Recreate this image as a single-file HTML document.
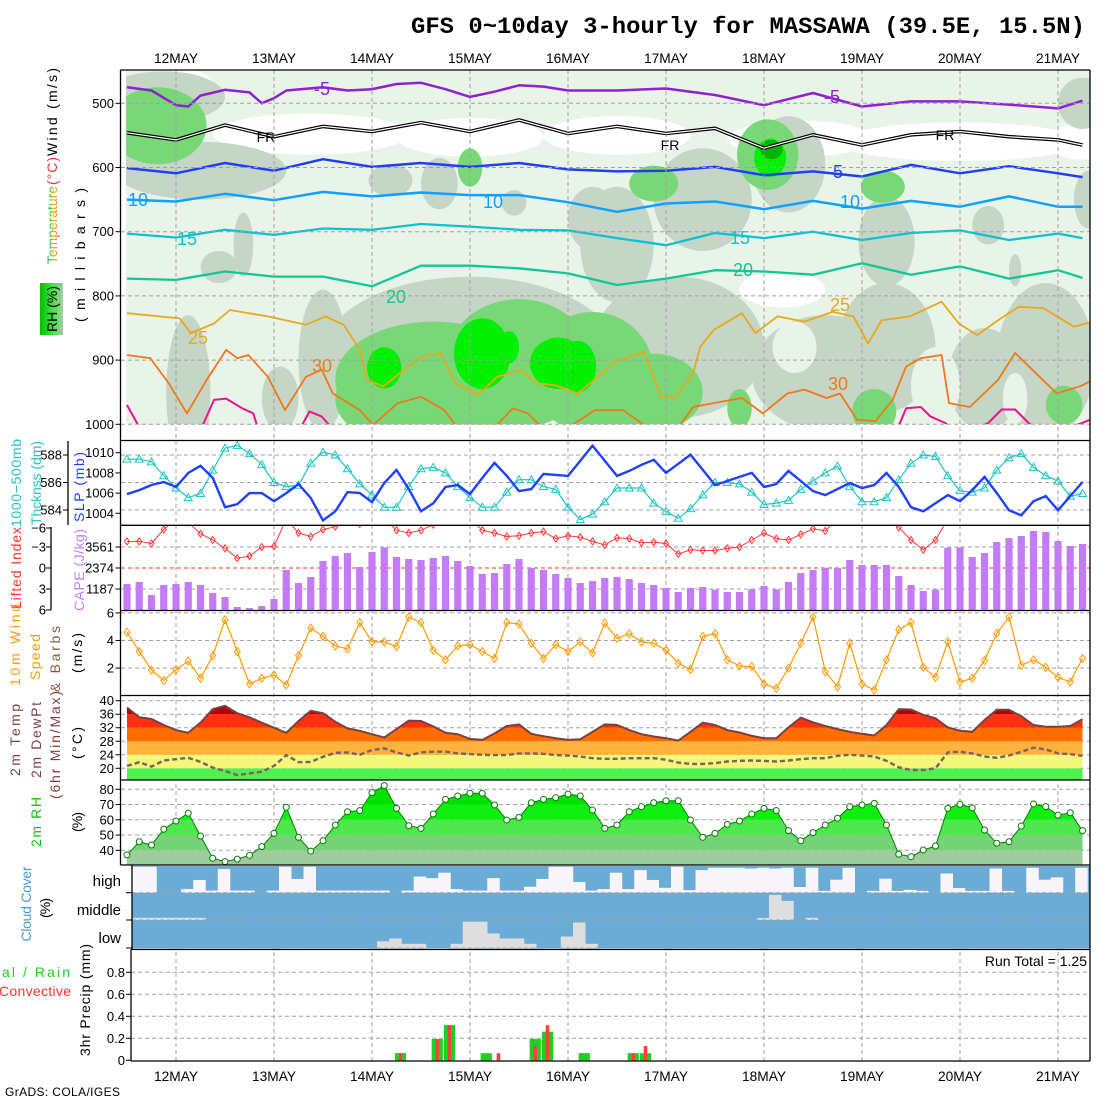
<!DOCTYPE html>
<html><head><meta charset="utf-8"><title>GFS Meteogram MASSAWA</title>
<style>
html,body{margin:0;padding:0;background:#fff;}
svg{display:block;font-family:"Liberation Sans",sans-serif;}
</style></head>
<body>
<svg id="chart" width="1100" height="1100" viewBox="0 0 1100 1100" xmlns="http://www.w3.org/2000/svg">
<defs>
<linearGradient id="tempGrad" x1="0" y1="1" x2="0" y2="0" gradientUnits="objectBoundingBox">
<stop offset="0" stop-color="#ff3030"/><stop offset="0.3" stop-color="#ffa000"/><stop offset="0.45" stop-color="#c8c800"/><stop offset="0.6" stop-color="#30c030"/><stop offset="0.8" stop-color="#00b0e0"/><stop offset="1" stop-color="#6040ff"/>
</linearGradient>
<linearGradient id="rhGrad" x1="0" y1="0" x2="1" y2="0">
<stop offset="0" stop-color="#00c000"/><stop offset="0.5" stop-color="#40e040"/><stop offset="1" stop-color="#a8cca8"/>
</linearGradient>
<clipPath id="clipTop"><rect x="126" y="70" width="964" height="354.3"/></clipPath>
<clipPath id="clipSlp"><rect x="121" y="441" width="969" height="84"/></clipPath>
<clipPath id="clipCape"><rect x="121" y="526" width="969" height="84"/></clipPath>
<clipPath id="clipWind"><rect x="121" y="611" width="969" height="84"/></clipPath>
</defs>
</svg>
<script>
// ---------- DATA ----------
const slp = [1005.9,1006.3,1006.8,1007.1,1006.6,1008.0,1008.7,1007.5,1004.6,1004.9,
1006.0,1006.0,1005.2,1006.0,1006.9,1005.5,1003.3,1004.2,1006.1,1006.0,
1005.1,1007.0,1008.3,1006.4,1004.2,1005.0,1006.6,1006.8,1005.9,1007.5,
1009.0,1007.7,1006.2,1006.4,1007.9,1007.8,1007.7,1009.2,1010.7,1009.2,
1007.7,1008.2,1008.8,1009.3,1008.0,1008.9,1009.8,1008.3,1006.8,1007.2,
1007.6,1008.0,1006.6,1006.9,1008.2,1007.2,1006.2,1005.8,1006.4,1007.0,
1006.5,1006.8,1008.0,1006.6,1004.6,1004.2,1005.0,1005.8,1005.2,1006.3,
1007.6,1006.0,1004.3,1003.8,1005.2,1005.7,1004.3,1005.7,1007.1];
const thick = [587.7,587.7,587.5,586.5,585.6,584.9,585.2,586.9,588.5,588.7,
588.1,587.3,586.0,585.7,585.8,587.4,588.2,588.0,587.0,585.9,
585.1,584.2,584.2,585.7,587.0,587.1,586.7,585.7,584.9,584.2,
584.2,585.3,586.2,586.2,585.7,585.5,584.2,583.3,583.7,584.6,
585.6,585.6,585.6,584.5,583.9,583.4,584.1,585.1,586.0,586.0,
585.9,585.3,584.4,584.5,584.7,585.5,586.1,586.7,587.2,585.7,
584.6,584.6,584.9,586.2,587.4,588.0,587.9,586.5,585.4,585.3,
585.6,586.9,587.8,588.1,587.1,586.5,586.1,585.0,585.2];
const liftedIndex = [-3.8,-3.8,-3.5,-5.5,-7,-6.5,-4.9,-4.0,-2.8,-1.4,
-1.7,-3.0,-3.1,-7,-5.0,-4.5,-5.5,-5.9,-7,-6.3,
-7,-7,-5.4,-5.0,-5.4,-6.2,-7,-7,-7,-5.4,
-5.0,-4.5,-4.6,-5.0,-5.2,-4.2,-4.6,-4.4,-3.8,-3.3,
-4.3,-4.2,-3.6,-3.7,-3.5,-2.0,-2.6,-2.5,-2.5,-2.8,
-3.0,-4.0,-5.0,-4.2,-4.0,-4.8,-5.6,-5.3,-7,-7,
-7,-7,-7,-5.8,-4.0,-2.6,-4.0,-7,-7,-7,
-7,-7,-7,-7,-7,-7,-7,-7,-7];
const cape = [1470,1583,848,1413,1470,1583,1413,961,735,170,
113,226,622,2261,1526,1865,2770,3052,3222,2430,
3278,3543,2996,2883,2826,2939,3052,2770,2487,2035,
2091,2600,2883,2374,2261,2035,1809,1526,1639,1809,
1865,1752,1526,1413,1244,1018,1244,1300,1150,1018,
1018,1167,1356,1167,1583,2091,2261,2374,2374,2826,
2543,2543,2543,1922,1413,1074,1150,3524,3524,2996,
3222,3844,4070,4183,4465,4409,3900,3618,3731];
const windSpeed = [4.6,3.2,1.86,1.1,1.9,2.5,1.26,2.9,5.5,3.2,
0.85,1.26,1.5,0.78,2.9,4.9,4.3,3.6,3.4,5.3,
3.9,3.9,3.55,5.7,5.3,3.3,2.6,3.6,3.7,3.2,
2.7,5.3,5.2,3.8,2.7,3.7,3.2,3.9,3.1,5.25,
4.15,4.5,3.9,3.8,3.3,2.35,1.9,4.3,4.5,2.6,
2.15,2.1,0.85,0.53,2.0,3.8,5.7,1.74,0.65,3.8,
0.85,0.41,2.6,4.8,5.3,2.06,1.33,3.9,1.0,1.26,
2.55,4.5,5.7,2.2,2.6,2.06,1.33,1.0,2.7];
const temp2m = [38.0,35.1,34.6,32.8,31.3,30.5,33.5,37.5,38.5,36.3,
35.1,33.5,32.0,30.5,34.0,37.0,36.3,33.8,31.8,31.1,
30.1,29.1,31.6,34.1,34.0,32.4,30.5,30.1,28.7,28.4,
30.3,32.5,33.0,30.2,29.5,28.9,28.4,28.6,30.8,33.0,
32.8,31.3,30.1,29.4,28.9,28.2,30.8,33.5,32.8,31.3,
30.6,29.6,28.9,28.9,32.1,35.0,33.6,32.5,31.6,30.8,
30.2,29.7,32.8,37.5,37.4,35.8,34.8,32.1,31.1,30.8,
34.3,37.3,37.3,35.4,32.8,32.3,32.3,32.5,34.5];
const dewpt2m = [20.7,21.8,20.5,22.3,22.7,23.1,21.9,20.2,19.2,18.0,
18.5,19.0,20.7,23.9,21.8,21.9,23.4,24.6,24.7,24.0,
25.4,25.9,24.7,23.8,24.7,24.9,24.9,24.4,24.2,24.0,
23.9,23.9,24.4,24.4,24.3,23.9,23.8,23.5,23.0,22.8,
22.8,23.0,23.0,23.0,22.5,21.7,21.3,21.3,21.5,22.0,
22.2,22.3,22.2,22.0,22.3,22.7,23.0,23.0,23.7,24.0,
23.8,23.5,22.2,20.3,19.5,19.5,20.0,24.7,24.9,24.4,
23.5,23.1,23.8,24.9,26.1,25.6,24.4,24.2,23.7];
const rh2m = [37,45.6,43.5,53.8,59.2,64.3,49.4,34.8,32.6,34.2,
36.7,42.4,51.1,68.2,48.5,39.5,46.3,56.6,65.3,66.0,
77.8,82.4,67.5,56.1,54.4,63.8,73.4,75.6,77.4,77.4,
69.7,59.9,61.6,71.2,73.4,74.5,76.9,75.6,66.4,54.4,
56.6,65.3,68.6,71.2,72.5,72.5,59.9,48.5,51.1,57.0,
59.2,63.8,67.5,66.0,52.9,46.3,51.6,56.6,61.0,68.6,
69.7,70.8,56.6,37.4,35.8,40.2,42.8,67.5,70.2,67.8,
53.3,44.6,45.6,55.9,70.4,68.6,63.1,64.6,52.9];
const cloudHigh = [100,100,0,0,14,49,8,91,8,8, 0,8,100,53,100,8,8,8,8,8,
8,0,8,62,56,77,14,8,8,56, 8,8,23,53,100,100,41,8,14,77,
14,87,49,19,100,10,87,96,96,96, 93,96,93,96,22,96,7,50,96,0,
7,54,7,11,7,0,74,18,7,7, 93,7,0,96,50,59,0,96];
const cloudMid = [8,8,8,8,8,8,0,0,0,0, 0,0,0,0,0,0,0,0,0,0,
0,0,0,0,0,0,0,0,0,0, 0,0,0,0,0,0,0,0,0,0,
0,0,0,0,0,0,0,0,0,0, 0,7,92,70,0,8,0,0,0,0,
0,0,0,0,0,0,0,0,0,0, 0,0,0,0,0,0,0,0];
const cloudLow = [0,0,0,0,0,0,0,0,0,0, 0,0,0,0,0,0,0,0,0,0,
24,34,15,15,0,0,15,94,94,52, 34,34,15,0,0,41,91,15,0,0,
0,0,0,0,0,0,0,0,0,0, 0,0,0,0,0,0,0,0,0,0,
0,0,0,0,0,0,0,0,0,0, 0,0,0,0,0,0,0,0];
const precipTotal = [0,0,0,0,0,0,0,0,0,0, 0,0,0,0,0,0,0,0,0,0,
0,0,0.065,0,0,0.194,0.32,0,0,0.065, 0,0,0,0.194,0.26,0,0,0.065,0,0,
0,0.065,0.065,0,0,0,0,0,0,0, 0,0,0,0,0,0,0,0,0,0,
0,0,0,0,0,0,0,0,0,0, 0,0,0,0,0,0,0,0,0];
const precipConv = [0,0,0,0,0,0,0,0,0,0, 0,0,0,0,0,0,0,0,0,0,
0,0,0.065,0,0,0.19,0.32,0,0,0, 0.065,0,0,0.13,0.32,0,0,0,0,0,
0,0.065,0.13,0,0,0,0,0,0,0, 0,0,0,0,0,0,0,0,0,0,
0,0,0,0,0,0,0,0,0,0, 0,0,0,0,0,0,0,0,0];
const dayLabels = ["12MAY","13MAY","14MAY","15MAY","16MAY","17MAY","18MAY","19MAY","20MAY","21MAY"];
const pressureTicks = [500,600,700,800,900,1000];
const slpTicks = [1010,1008,1006,1004];
const thickTicks = [588,586,584];
const liTicks = [-6,-3,0,3,6];
const capeTicks = [3561,2374,1187];
const windTicks = [6,4,2];
const tempTicks = [40,36,32,28,24,20];
const rhTicks = [80,70,60,50,40];
const precipTicks = [0,0.2,0.4,0.6,0.8];
const isoM5T = [0,2,4,5,6,8,10,11,12,13,16,18,20,22,24,26,28,30,32,34,36,40,44,48,52,56,60,64,68,72,76,78];
const isoM5P = [475,480,503,505,488,479,483,500,492,480,475,480,478,470,468,478,490,482,472,474,480,480,477,487,503,484,505,497,497,502,508,496];
const isoFrT = [0,4,8,12,16,20,24,28,32,36,40,44,48,52,56,60,64,68,72,76,78];
const isoFrP = [546,557,534,552,536,544,530,544,526,547,536,547,539,570,549,565,549,544,552,557,565];
const iso5P = [601,609,593,605,587,599,593,599,593,603,606,605,599,612,606,614,596,609,598,609,615];
const iso10P = [650,653,641,651,638,645,639,643,643,654,669,656,653,665,652,664,652,661,645,661,661];
const iso15P = [703,709,697,705,695,697,688,692,697,698,710,721,702,710,700,713,702,698,713,703,710];
const iso20P = [773,775,762,770,770,785,753,753,757,765,783,773,760,762,767,749,767,754,773,760,772];
const iso25T = [0,4.3,5.2,7.1,8.4,11.5,14.6,16.2,17.7,19,19.6,20.9,24,25.6,26.8,28.7,30.2,32.1,33.4,34.9,36.8,39.9,42.2,43.6,44.8,46.2,46.8,47.9,50.2,51.3,53.1,55.3,57.6,59.3,60.5,61.6,63.9,66.5,67.9,69.4,71.1,72.8,74.8,77.3,79.3];
const iso25P = [827,835,858,843,822,832,845,832,845,884,931,941,895,889,936,954,926,915,936,939,952,902,887,957,957,921,879,853,827,858,832,840,825,832,874,838,832,809,843,861,838,817,819,848,838];
const iso30T = [0,1.9,3.4,4.9,6.5,8.1,9.0,9.9,11.5,12.9,14.6,15.9,16.8,19.0,20.1,22.1,24.0,25.9,26.8,30.2,31.5,32.7,33.7,36,38.2,40.5,42.5,45,46.2,47.6,50.2,51.9,53.9,55.3,57.1,58.2,59.6,61.1,62.5,63.6,64.8,66.5,67.1,68.8,71.1,72.5,73.9,75.9,77.9,79.3];
const iso30P = [892,897,936,983,931,884,897,892,926,978,926,915,952,978,1001,967,957,978,1001,1001,975,983,1001,1005,978,978,1005,1005,973,968,959,983,952,946,959,952,993,995,962,910,897,892,967,973,931,889,915,952,940,926];
const iso35T = [0,0.9,2.2,3.1,5,6.2,7.1,8.1,9.4,10.3,10.6,12,14.3,14.9,15.9,16.5,18,40,62,63.1,63.6,64.8,65.6,66.8,68,70.3,71.4,72.5,73.6,75,79];
const iso35P = [970,1001,1003,1024,1020,1001,962,960,975,983,1001,1020,1001,980,988,1001,1020,1020,1020,998,975,973,988,998,1020,998,977,977,998,1020,990];
const rhBlobs = [
[15,548,8,32,0],[28,553,6,30,0],[40,550,6,30,0],[55,555,6,28,0],[68,560,10,30,0],[78,560,3,28,0],[4,470,3,25,0],
[3,490,5,40,1],[6,605,7,45,1],[2,540,4,70,1],[9.5,720,0.8,50,1],[7.5,755,1.5,25,1],[21.5,620,1.8,25,1],[25.5,625,1.5,40,1],
[31.6,655,1,20,1],[38,680,2,50,1],[47,650,4,80,1],[54,595,3,75,1],[40,720,3,90,1],[62,715,2.3,70,1],[70.3,690,1.3,30,1],[72.5,760,0.5,25,1],
[78.5,650,1.2,45,1],[78,500,2,40,1],
[28,890,12,120,1],[45,880,7,110,1],[57,920,6,90,1],[62,880,4,100,1],[70,930,3,80,1],[75,900,4,120,1],[5,950,1.8,120,1],[16,900,2,110,1],[12.5,960,1.5,50,1],
[66,940,2,60,5],[54.5,880,1.8,40,5],[72.5,960,1,40,5],[53.5,790,3.5,28,0],
[2.5,535,4,60,2],[25,930,8,90,2],[32,905,6,100,2],[38,920,5,95,2],[43,950,4,60,2],[21,960,4,60,2],
[52.3,580,2.5,55,2],[43,625,2,28,2],[61.7,630,1.8,25,2],[61,980,1.8,35,2],[50,975,1,30,2],[76.5,970,1.5,30,2],[28,600,1,30,2],
[21,912,1.4,32,3],[29,890,2.3,55,3],[31.2,880,0.8,25,3],[35.2,905,2.3,40,3],[36.8,910,1.5,40,3],[52.5,585,1.3,30,3],
[52.6,572,0.9,15,4]];
const rhBlobColors = ["#ffffff","#c6d6c6","#78d878","#00f000","#00b400","#e8f4e8"];

const NS = "http://www.w3.org/2000/svg";
const svg = document.getElementById("chart");
function mk(tag, attrs, parent){ const e=document.createElementNS(NS,tag); for(const k in attrs) e.setAttribute(k, attrs[k]); (parent||svg).appendChild(e); return e; }
function group(name, extra){ const g=mk("g", extra||{});   return g; }
const xAt = i => 127 + 12.25*i;
const yP = p => 103.3 + (p-500)*0.642;
const ySlp = v => 452.7 - (v-1010)*10.1;
const yTh = v => 455 + (588-v)*13.75;
const yLi = v => 568 + v*7;
const yCape = v => 610 - v*21/1187;
const yWs = v => 695.7 - v*13.8;
const yT = v => 768.3 - (v-20)*3.38;
const yRh = v => 850.3 - (v-40)*1.525;
const yPr = v => 1060.3 - v*110;
const dayX = k => xAt(4 + 8*k);
function pts(xs, ys){ return xs.map((x,i)=>x.toFixed(1)+","+ys[i].toFixed(1)).join(" "); }
function txt(parent, x, y, s, attrs){ const t=mk("text", Object.assign({x:x,y:y}, attrs||{}), parent); t.textContent=s; return t; }
function vtxt(parent, x, yc, s, color, len, size){
  const t=mk("text",{x:x,y:yc,transform:"rotate(-90 "+x+" "+yc+")","text-anchor":"middle",fill:color,"font-size":size||14,textLength:len,lengthAdjust:"spacing"},parent);
  t.textContent=s; return t;
}

const title = txt(svg, 411, 33, "GFS 0~10day 3-hourly for MASSAWA (39.5E, 15.5N)", {"font-family":"Liberation Mono, monospace","font-weight":"bold","font-size":23,textLength:674,lengthAdjust:"spacingAndGlyphs",fill:"#000"});



const gTop = group("upper-air-panel");
const gShade = group("rh-shading", {"clip-path":"url(#clipTop)"}); gTop.appendChild(gShade);
const bg = mk("rect",{x:126,y:70,width:964,height:354.3,fill:"#e8f4e8"},gShade);


rhBlobs.forEach(b=>{
  const e = mk("ellipse",{cx:xAt(b[0]),cy:yP(b[1]),rx:b[2]*12.25,ry:b[3]*0.642,fill:rhBlobColors[b[4]]},gShade);
  
  
});
const gIso = group("isotherms", {"clip-path":"url(#clipTop)"}); gTop.appendChild(gIso);
function iso(name, T, P, color, w){
  const l = mk("polyline",{points:pts(T.map(xAt), P.map(yP)),fill:"none",stroke:color,"stroke-width":w,"stroke-linejoin":"round"},gIso);
  
  
  return l;
}
iso("isotherm-minus5", isoM5T, isoM5P, "#9020d0", 2.5);
iso("isotherm-freezing-outer", isoFrT, isoFrP, "#000", 3.6);
iso("isotherm-freezing-inner", isoFrT, isoFrP, "#fff", 1.2);
iso("isotherm-5", isoFrT, iso5P, "#2040f0", 2.5);
iso("isotherm-10", isoFrT, iso10P, "#10a0ff", 2.5);
iso("isotherm-15", isoFrT, iso15P, "#10c0d0", 2.3);
iso("isotherm-20", isoFrT, iso20P, "#10c890", 2.3);
iso("isotherm-25", iso25T, iso25P, "#e8a818", 1.8);
iso("isotherm-30", iso30T, iso30P, "#f07818", 1.8);
iso("isotherm-35", iso35T, iso35P, "#f0108c", 2);
const isoLabels = [["-5",322,95,"#9020d0"],["-5",832,103,"#9020d0"],["5",838,178,"#2040f0"],["FR",266,142,"#000"],["FR",670,150,"#000"],["FR",945,140,"#000"],
["10",138,206,"#10a0ff"],["10",493,208,"#10a0ff"],["10",850,208,"#10a0ff"],["15",187,245,"#10c0d0"],["15",740,244,"#10c0d0"],
["20",396,303,"#10c890"],["20",743,276,"#10c890"],["25",198,344,"#e8a818"],["25",840,311,"#e8a818"],["30",322,372,"#f07818"],["30",838,390,"#f07818"]];
isoLabels.forEach(L=>{
  const t = txt(gTop, L[1], L[2], L[0], {fill:L[3],"font-size":L[0]==="FR"?14:18,"text-anchor":"middle"});
  
  
});

const gGrid = group("grid-lines", {stroke:"#a0a0a0","stroke-width":1,"stroke-dasharray":"4,3",fill:"none"});
dayLabels.forEach((d,k)=>{
  const l = mk("line",{x1:dayX(k),x2:dayX(k),y1:70,y2:1061},gGrid);
  
  
});
function hgrid(y, x1, color){
  const l = mk("line",{x1:x1||121,x2:1090,y1:y,y2:y},gGrid);
  if(color) l.setAttribute("stroke",color);
  
  
}
pressureTicks.forEach(p=>hgrid(yP(p)));
thickTicks.forEach(v=>hgrid(yTh(v)));
[-3,3].forEach(v=>hgrid(yLi(v)));
hgrid(yLi(0),121,"#ff3030");
windTicks.forEach(v=>hgrid(yWs(v)));
tempTicks.forEach(v=>hgrid(yT(v)));
rhTicks.forEach(v=>hgrid(yRh(v)));
precipTicks.slice(1).forEach(v=>hgrid(yPr(v),131));

const gSlp = group("slp-thickness-panel", {"clip-path":"url(#clipSlp)"});
const thL = mk("polyline",{points:pts(thick.map((v,i)=>xAt(i)), thick.map(yTh)),fill:"none",stroke:"#20c4c4","stroke-width":1.2},gSlp);


thick.forEach((v,i)=>{
  const x=xAt(i), y=yTh(v);
  const m = mk("polygon",{points:(x)+","+(y-4)+" "+(x-4)+","+(y+3)+" "+(x+4)+","+(y+3),fill:"none",stroke:"#20c4c4","stroke-width":1},gSlp);
  
  
});
const slpL = mk("polyline",{points:pts(slp.map((v,i)=>xAt(i)), slp.map(ySlp)),fill:"none",stroke:"#2040ff","stroke-width":2.4},gSlp);



const gCape = group("cape-li-panel", {"clip-path":"url(#clipCape)"});
cape.forEach((v,i)=>{
  const y=yCape(v);
  const r = mk("rect",{x:xAt(i)-3.6,y:y,width:7.2,height:610-y,fill:"#c47cf6"},gCape);
  
  
});
const liL = mk("polyline",{points:pts(liftedIndex.map((v,i)=>xAt(i)), liftedIndex.map(yLi)),fill:"none",stroke:"#ff3838","stroke-width":1},gCape);


liftedIndex.forEach((v,i)=>{
  const x=xAt(i), y=yLi(v);
  const m = mk("polygon",{points:x+","+(y-3.5)+" "+(x+2.5)+","+y+" "+x+","+(y+3.5)+" "+(x-2.5)+","+y,fill:"none",stroke:"#ff3838","stroke-width":1},gCape);
  
  
});

const gWind = group("wind-panel", {"clip-path":"url(#clipWind)"});
const wsL = mk("polyline",{points:pts(windSpeed.map((v,i)=>xAt(i)), windSpeed.map(yWs)),fill:"none",stroke:"#ff9a00","stroke-width":1.2},gWind);


windSpeed.forEach((v,i)=>{
  const x=xAt(i), y=yWs(v);
  const m = mk("polygon",{points:x+","+(y-4)+" "+(x+3)+","+y+" "+x+","+(y+4)+" "+(x-3)+","+y,fill:"none",stroke:"#ff9a00","stroke-width":1},gWind);
  
  
});

const gTemp = group("temperature-panel");
const tClip = mk("clipPath",{id:"tempArea"},svg.querySelector("defs"));
mk("polygon",{points:xAt(0)+",780 "+pts(temp2m.map((v,i)=>xAt(i)), temp2m.map(yT))+" "+xAt(78)+",780"},tClip);
const tempBands = [[16,20,"#50f050"],[20,24,"#f2f87a"],[24,28,"#ffb23c"],[28,32,"#ff6c00"],[32,36,"#ff3010"],[36,44,"#b80000"]];
const gBands = group("temperature-bands",{"clip-path":"url(#tempArea)"}); gTemp.appendChild(gBands);
tempBands.forEach(b=>{
  const y1=yT(b[1]), y2=Math.min(780,yT(b[0]));
  const r = mk("rect",{x:xAt(0),y:y1,width:xAt(78)-xAt(0),height:y2-y1,fill:b[2]},gBands);
  
  
});
const tL = mk("polyline",{points:pts(temp2m.map((v,i)=>xAt(i)), temp2m.map(yT)),fill:"none",stroke:"#7a4040","stroke-width":2},gTemp);


const dL = mk("polyline",{points:pts(dewpt2m.map((v,i)=>xAt(i)), dewpt2m.map(yT)),fill:"none",stroke:"#806060","stroke-width":2.4,"stroke-dasharray":"5,3"},gTemp);



const gRh = group("rh-panel");
const rClip = mk("clipPath",{id:"rhArea"},svg.querySelector("defs"));
mk("polygon",{points:xAt(0)+",865 "+pts(rh2m.map((v,i)=>xAt(i)), rh2m.map(yRh))+" "+xAt(78)+",865"},rClip);
const rhBands = [[20,40,"#9ecc9e"],[40,50,"#76d276"],[50,60,"#4ee84e"],[60,70,"#10f010"],[70,80,"#00e000"],[80,100,"#00b400"]];
const gRB = group("rh-bands",{"clip-path":"url(#rhArea)"}); gRh.appendChild(gRB);
rhBands.forEach(b=>{
  const y1=yRh(b[1]), y2=Math.min(865,yRh(b[0]));
  const r = mk("rect",{x:xAt(0),y:y1,width:xAt(78)-xAt(0),height:y2-y1,fill:b[2]},gRB);
  
  
});
const rhL = mk("polyline",{points:pts(rh2m.map((v,i)=>xAt(i)), rh2m.map(yRh)),fill:"none",stroke:"#008000","stroke-width":1},gRh);


rh2m.forEach((v,i)=>{
  const c = mk("circle",{cx:xAt(i),cy:yRh(v),r:3,fill:"#fff",stroke:"#008000","stroke-width":1},gRh);
  
  
});

const gCloud = group("cloud-panel");
const cbg = mk("rect",{x:132,y:866,width:958,height:82.5,fill:"#6aacd6"},gCloud);


const rows = [[cloudHigh,892.7,26,"#f8f4fa","high-cloud-bar"],[cloudMid,920,27.3,"#dedede","middle-cloud-bar"],[cloudLow,948,28,"#dedede","low-cloud-bar"]];
rows.forEach(R=>{
  R[0].forEach((v,k)=>{
    if(v<=0) return;
    const h=v/100*R[2];
    const r = mk("rect",{x:132+12.25*k,y:R[1]-h,width:12.5,height:h,fill:R[3]},gCloud);
    
    
  });
});
[892.7,920,948].forEach(y=>{
  const l = mk("line",{x1:132,x2:1090,y1:y,y2:y,stroke:"#a0a0a0","stroke-dasharray":"4,3"},gCloud);
  
  
  const t = mk("line",{x1:126,x2:132,y1:y,y2:y,stroke:"#000"},gCloud);
  
  
});
[["high",886],["middle",915],["low",943]].forEach(L=>{
  const t = txt(gCloud,121,L[1],L[0],{"text-anchor":"end","font-size":15,fill:"#000"});
  
  
});

const gPr = group("precip-panel");
precipTotal.forEach((v,i)=>{
  if(v<=0) return;
  const y=yPr(v);
  const r = mk("rect",{x:xAt(i)+4-5.6,y:y,width:11.2,height:1060.3-y,fill:"#20d020"},gPr);
  
  
});
precipConv.forEach((v,i)=>{
  if(v<=0) return;
  const y=yPr(v);
  const r = mk("rect",{x:xAt(i)+4-1.8,y:y,width:3.6,height:1060.3-y,fill:"#ff4040"},gPr);
  
  
});
const rt = txt(gPr,1087,966,"Run Total = 1.25",{"text-anchor":"end","font-size":14,fill:"#000"});



const gFrame = group("panel-frames",{stroke:"#000","stroke-width":1.3,fill:"none"});
[[120.5,70,1090,70],[120.5,70,120.5,865],[1090,70,1090,1061],[120.5,440.5,1090,440.5],[120.5,525.3,1090,525.3],[120.5,610.5,1090,610.5],
 [120.5,695.5,1090,695.5],[120.5,780,1090,780],[120.5,865,1090,865],[132,865,132,949],[131,949.5,1090,949.5],[131,949.5,131,1061],[131,1061,1090,1061],
 [68,441,68,525],[51,527,51,610]].forEach(s=>{
  const l = mk("line",{x1:s[0],y1:s[1],x2:s[2],y2:s[3]},gFrame);
  
  
});

const gTicks = group("tick-labels",{"font-size":13,fill:"#000"});
function tickL(x, y, s, tx){
  const t = txt(gTicks, x, y+4.5, s, {"text-anchor":"end"});
  
  
  const l = mk("line",{x1:tx,x2:tx+5,y1:y,y2:y,stroke:"#000"},gTicks);
  
  
}
pressureTicks.forEach(p=>tickL(114,yP(p),String(p),115.5));
slpTicks.forEach(v=>tickL(114,ySlp(v),String(v),115.5));
thickTicks.forEach(v=>tickL(62,yTh(v),String(v),63));
liTicks.forEach(v=>tickL(46,yLi(v)-(v===-6?-2:0),v<0?"\u2212"+Math.abs(v):String(v),46));
capeTicks.forEach(v=>tickL(114,yCape(v),String(v),115.5));
windTicks.forEach(v=>tickL(114,yWs(v),String(v),115.5));
tempTicks.forEach(v=>tickL(114,yT(v),String(v),115.5));
rhTicks.forEach(v=>tickL(114,yRh(v),String(v),115.5));
precipTicks.forEach(v=>tickL(125,yPr(v),v===0?"0":String(v),126));
const gDays = group("day-labels",{"font-size":14,fill:"#000","text-anchor":"middle"});
dayLabels.forEach((d,k)=>{
  const a = txt(gDays, dayX(k), 63, d, {textLength:44,lengthAdjust:"spacingAndGlyphs"});
  
  
  const b = txt(gDays, dayX(k), 1081, d, {textLength:44,lengthAdjust:"spacingAndGlyphs"});
  
  
});

const gTitles = group("axis-titles");
const rhBox = mk("rect",{x:40,y:283,width:23,height:52,fill:"url(#rhGrad)"},gTitles);


const axisTitles = [
 [57,309,"RH (%)","#000",46,14],[57,225,"Temperature","url(#tempGrad)",78,14],[57,171,"(\u00b0C)","#ff3030",28,14],[57,112,"Wind (m/s)","#000",88,14],
 [85,255,"(millibars)","#000",134,14],
 [21,483,"1000\u2212500mb","#20c4c4",88,14],[41,483,"Thcknss (dm)","#20c4c4",84,14],[84,487,"SLP (mb)","#2040ff",70,14],
 [21,568,"Lifted Index","#ff3030",82,14],[84,570,"CAPE (J/kg)","#c47cf6",82,14],
 [20,645,"10m Wind","#ff9a00",82,14],[40,657,"Speed","#ff9a00",46,14],[60,659,"& Barbs","#806040",66,14],[82,653,"(m/s)","#000",40,14],
 [20,740,"2m Temp","#7a4040",72,14],[41,740,"2m DewPt","#7a4040",76,14],[60,745,"(6hr Min/Max)","#7a4040",108,14],[82,743,"(\u00b0C)","#000",32,14],
 [41,822,"2m RH","#10c010",50,14],[82,822,"(%)","#000",20,14],
 [31,904,"Cloud Cover","#4a9ad0",75,14],[50,908,"(%)","#000",20,14],
 [90,1000,"3hr Precip (mm)","#000",112,14]];
axisTitles.forEach(a=>{
  const t = vtxt(gTitles,a[0],a[1],a[2],a[3],a[4],a[5]);
  
  
});
const tr = txt(gTitles,-4,977,"tal / Rain",{fill:"#20d020","font-size":14,textLength:74,lengthAdjust:"spacing"});


const cv = txt(gTitles,-1,996,"Convective",{fill:"#ff3030","font-size":14,textLength:72,lengthAdjust:"spacing"});


const gr = txt(gTitles,5,1096,"GrADS: COLA/IGES",{fill:"#000","font-size":12,textLength:115,lengthAdjust:"spacing"});


</script>
</body></html>
